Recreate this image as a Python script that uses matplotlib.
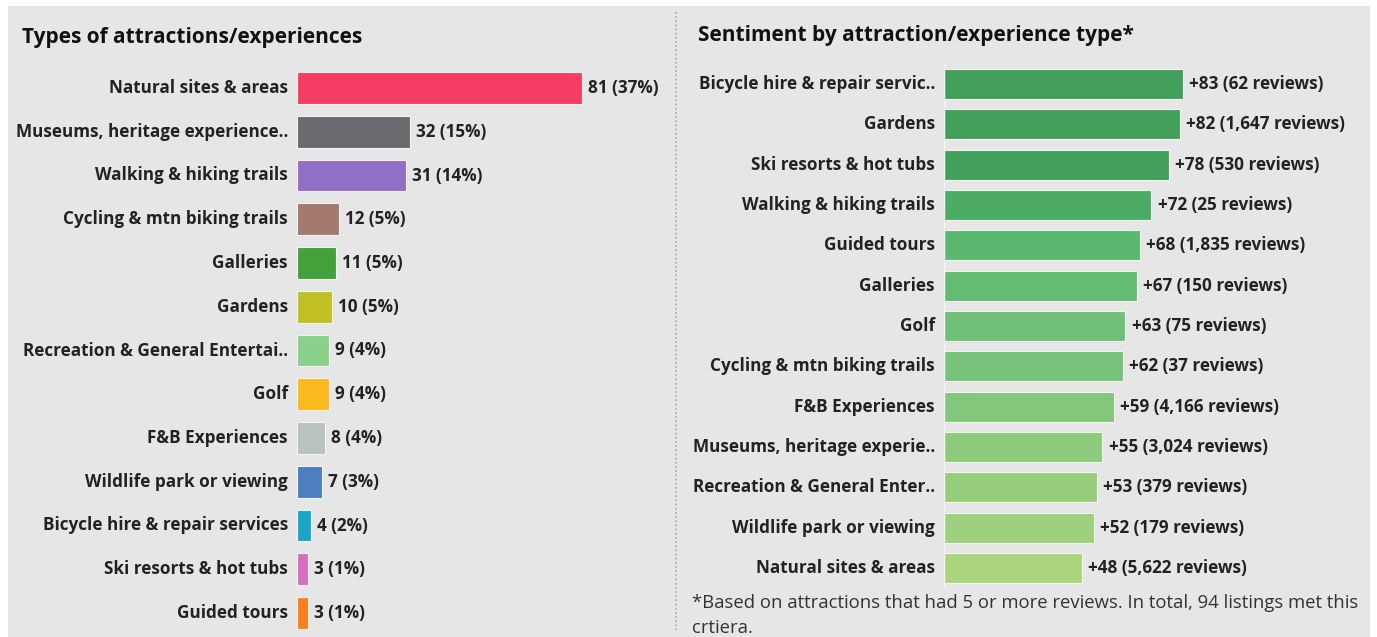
import matplotlib
matplotlib.use("Agg")
import matplotlib.pyplot as plt
from matplotlib.patches import Rectangle
from matplotlib.lines import Line2D

# left panel data
types = ["Natural sites & areas", "Museums, heritage experience..", "Walking & hiking trails",
         "Cycling & mtn biking trails", "Galleries", "Gardens", "Recreation & General Entertai..",
         "Golf", "F&B Experiences", "Wildlife park or viewing", "Bicycle hire & repair services",
         "Ski resorts & hot tubs", "Guided tours"]
counts = [81, 32, 31, 12, 11, 10, 9, 9, 8, 7, 4, 3, 3]
pcts = [37, 15, 14, 5, 5, 5, 4, 4, 4, 3, 2, 1, 1]
type_colors = ["#f53d63", "#6b6b6f", "#9370c8", "#a57a6e", "#43a23c", "#c0bf24", "#8bd18c",
               "#fbb920", "#b9c3c1", "#4d7ebf", "#1aa6c9", "#d86ec1", "#fb7f1c"]

# right panel data
sent_types = ["Bicycle hire & repair servic..", "Gardens", "Ski resorts & hot tubs",
              "Walking & hiking trails", "Guided tours", "Galleries", "Golf",
              "Cycling & mtn biking trails", "F&B Experiences", "Museums, heritage experie..",
              "Recreation & General Enter..", "Wildlife park or viewing", "Natural sites & areas"]
sentiment = [83, 82, 78, 72, 68, 67, 63, 62, 59, 55, 53, 52, 48]
reviews = ["62", "1,647", "530", "25", "1,835", "150", "75", "37", "4,166", "3,024", "379", "179", "5,622"]
sent_colors = ["#42a05b", "#42a05b", "#42a05b", "#4dac64", "#5bb96f", "#64bc72", "#70c177",
               "#76c37a", "#82c77b", "#8dcb7c", "#97ce7c", "#9ed17e", "#abd47f"]

W, H = 1377, 637
fig = plt.figure(figsize=(W / 100, H / 100), dpi=100, facecolor="white")
fig.add_artist(Rectangle((8 / W, 0), (1370 - 8) / W, 631 / H, transform=fig.transFigure,
                         facecolor="#e6e6e6", edgecolor="none", zorder=-10))

txt = "#222222"
lab_font = dict(family="Open Sans", weight="bold", size=12.3, color=txt)


def fx(px):
    return px / W


def fy(py):
    return 1 - py / H


# left axes
n = len(types)
sp = 43.75
top = 88 - sp / 2
ax1 = fig.add_axes([fx(297), fy(top + sp * n), fx(655 - 297), sp * n / H])
ax1.barh(range(n), counts, height=0.73, color=type_colors, edgecolor="#f4f4f4", linewidth=0.8)
ax1.set_xlim(0, (655 - 297) / 3.52)
ax1.set_ylim(n - 0.5, -0.5)
ax1.set_yticks(range(n))
ax1.set_yticklabels(types, fontdict=lab_font, va="center")
for i, (c, p) in enumerate(zip(counts, pcts)):
    ax1.annotate(f"{c} ({p}%)", (c, i), xytext=(4.5, 0), textcoords="offset points",
                 va="center", ha="left", **lab_font)

# right axes
m = len(sent_types)
sp2 = (568 - 84) / (m - 1)
top2 = 84 - sp2 / 2
ax2 = fig.add_axes([fx(944), fy(top2 + sp2 * m), fx(1365 - 944), sp2 * m / H])
ax2.barh(range(m), sentiment, height=0.74, color=sent_colors, edgecolor="#f4f4f4", linewidth=0.8)
ax2.set_xlim(0, (1365 - 944) / 2.88)
ax2.set_ylim(m - 0.5, -0.5)
ax2.set_yticks(range(m))
ax2.set_yticklabels(sent_types, fontdict=lab_font, va="center")
for i, (s, r) in enumerate(zip(sentiment, reviews)):
    ax2.annotate(f"+{s} ({r} reviews)", (s, i), xytext=(4.5, 0), textcoords="offset points",
                 va="center", ha="left", **lab_font)

for ax in (ax1, ax2):
    ax.set_facecolor("none")
    for sp_name in ax.spines:
        ax.spines[sp_name].set_visible(False)
    ax.tick_params(axis="y", length=0, pad=6.5)
    ax.tick_params(axis="x", bottom=False, labelbottom=False)
ax2.axvline(0, color="#f6f6f6", lw=1)

# titles
fig.text(fx(22), fy(37), "Types of attractions/experiences", ha="left", va="center",
         family="Open Sans", weight="bold", size=15, color="#111111")
fig.text(fx(698), fy(35), "Sentiment by attraction/experience type*", ha="left", va="center",
         family="Open Sans", weight="bold", size=15, color="#111111")

# divider
fig.add_artist(Line2D([fx(676), fx(676)], [fy(12), fy(630)], transform=fig.transFigure,
                      color="#a8a8a8", lw=1.2, ls=(0, (1, 1.5))))

# footnote
fig.text(fx(692), fy(603), "*Based on attractions that had 5 or more reviews. In total, 94 listings met this",
         ha="left", va="center", family="Open Sans", size=13.3, color="#333333")
fig.text(fx(692), fy(628), "crtiera.", ha="left", va="center", family="Open Sans",
         size=13.3, color="#333333")

fig.savefig("out.png", dpi=100, facecolor="white")
